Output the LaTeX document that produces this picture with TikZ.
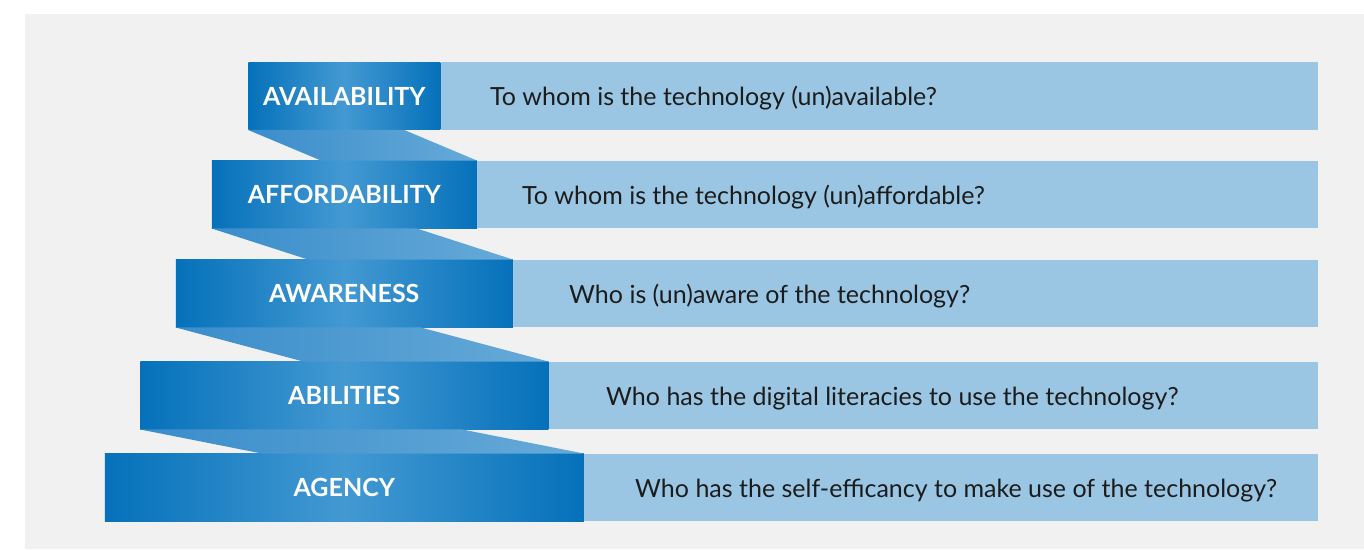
\documentclass[tikz,border=0pt]{standalone}
\usepackage{fontspec}
\setmainfont{Lato}

\definecolor{panelgray}{HTML}{F1F1F1}
\definecolor{barblue}{HTML}{9AC6E4}
\definecolor{edgeblue}{HTML}{0571BA}
\definecolor{midblue}{HTML}{4399D2}
\definecolor{ribleft}{HTML}{3A8DCB}
\definecolor{ribright}{HTML}{66AAD8}
\definecolor{qtext}{HTML}{1C1C1C}

\begin{document}
\begin{tikzpicture}[x=1pt,y=-1pt,
    stage/.style={inner sep=0pt,minimum height=67.5pt,
      left color=edgeblue,right color=edgeblue,middle color=midblue,
      text=white,font=\fontsize{25}{30}\selectfont\bfseries},
    question/.style={inner sep=0pt,anchor=base west,text=qtext,
      font=\fontsize{25}{30}\selectfont}]

  \useasboundingbox (0,0) rectangle (1364,549);

  % grey panel
  \fill[panelgray] (25,14) rectangle (1364,549);

  \coordinate (barend) at (1318,0);

  % the five stages, widening downwards
  \node[stage,minimum width=192pt] (avail)  at (344.3,96)    {AVAILABILITY};
  \node[stage,minimum width=265pt] (afford) at (344.3,194.5) {AFFORDABILITY};
  \node[stage,minimum width=337pt] (aware)  at (344.3,293.5) {AWARENESS};
  \node[stage,minimum width=408pt] (abil)   at (344.3,395.5) {ABILITIES};
  \node[stage,minimum width=479pt] (agency) at (344.3,487.5) {AGENCY};

  % light bars behind the questions
  \foreach \st in {avail,afford,aware,abil,agency}
  {
       \fill[barblue] (\st.north east) rectangle (\st.south east -| barend);
  }

  % folded ribbon between two stages
  \foreach \up/\dn/\w in {avail/afford/156,afford/aware/205,aware/abil/245,abil/agency/322}
  {
       \shade[left color=ribleft,right color=ribright]
         (\up.south west) -- ++(\w,0) -- (\dn.north east) -- ++(-\w,0) -- cycle;
  }

  % questions
  \node[question] (qavail)  at (490,105.8) {To whom is the technology (un)available?};
  \node[question] (qafford) at (522,204.3) {To whom is the technology (un)affordable?};
  \node[question] (qaware)  at (569,303.3) {Who is (un)aware of the technology?};
  \node[question] (qabil)   at (606,405.3) {Who has the digital literacies to use the technology?};
  \node[question] (qagency) at (635,497.3) {Who has the self-efficancy to make use of the technology?};

\end{tikzpicture}
\end{document}
